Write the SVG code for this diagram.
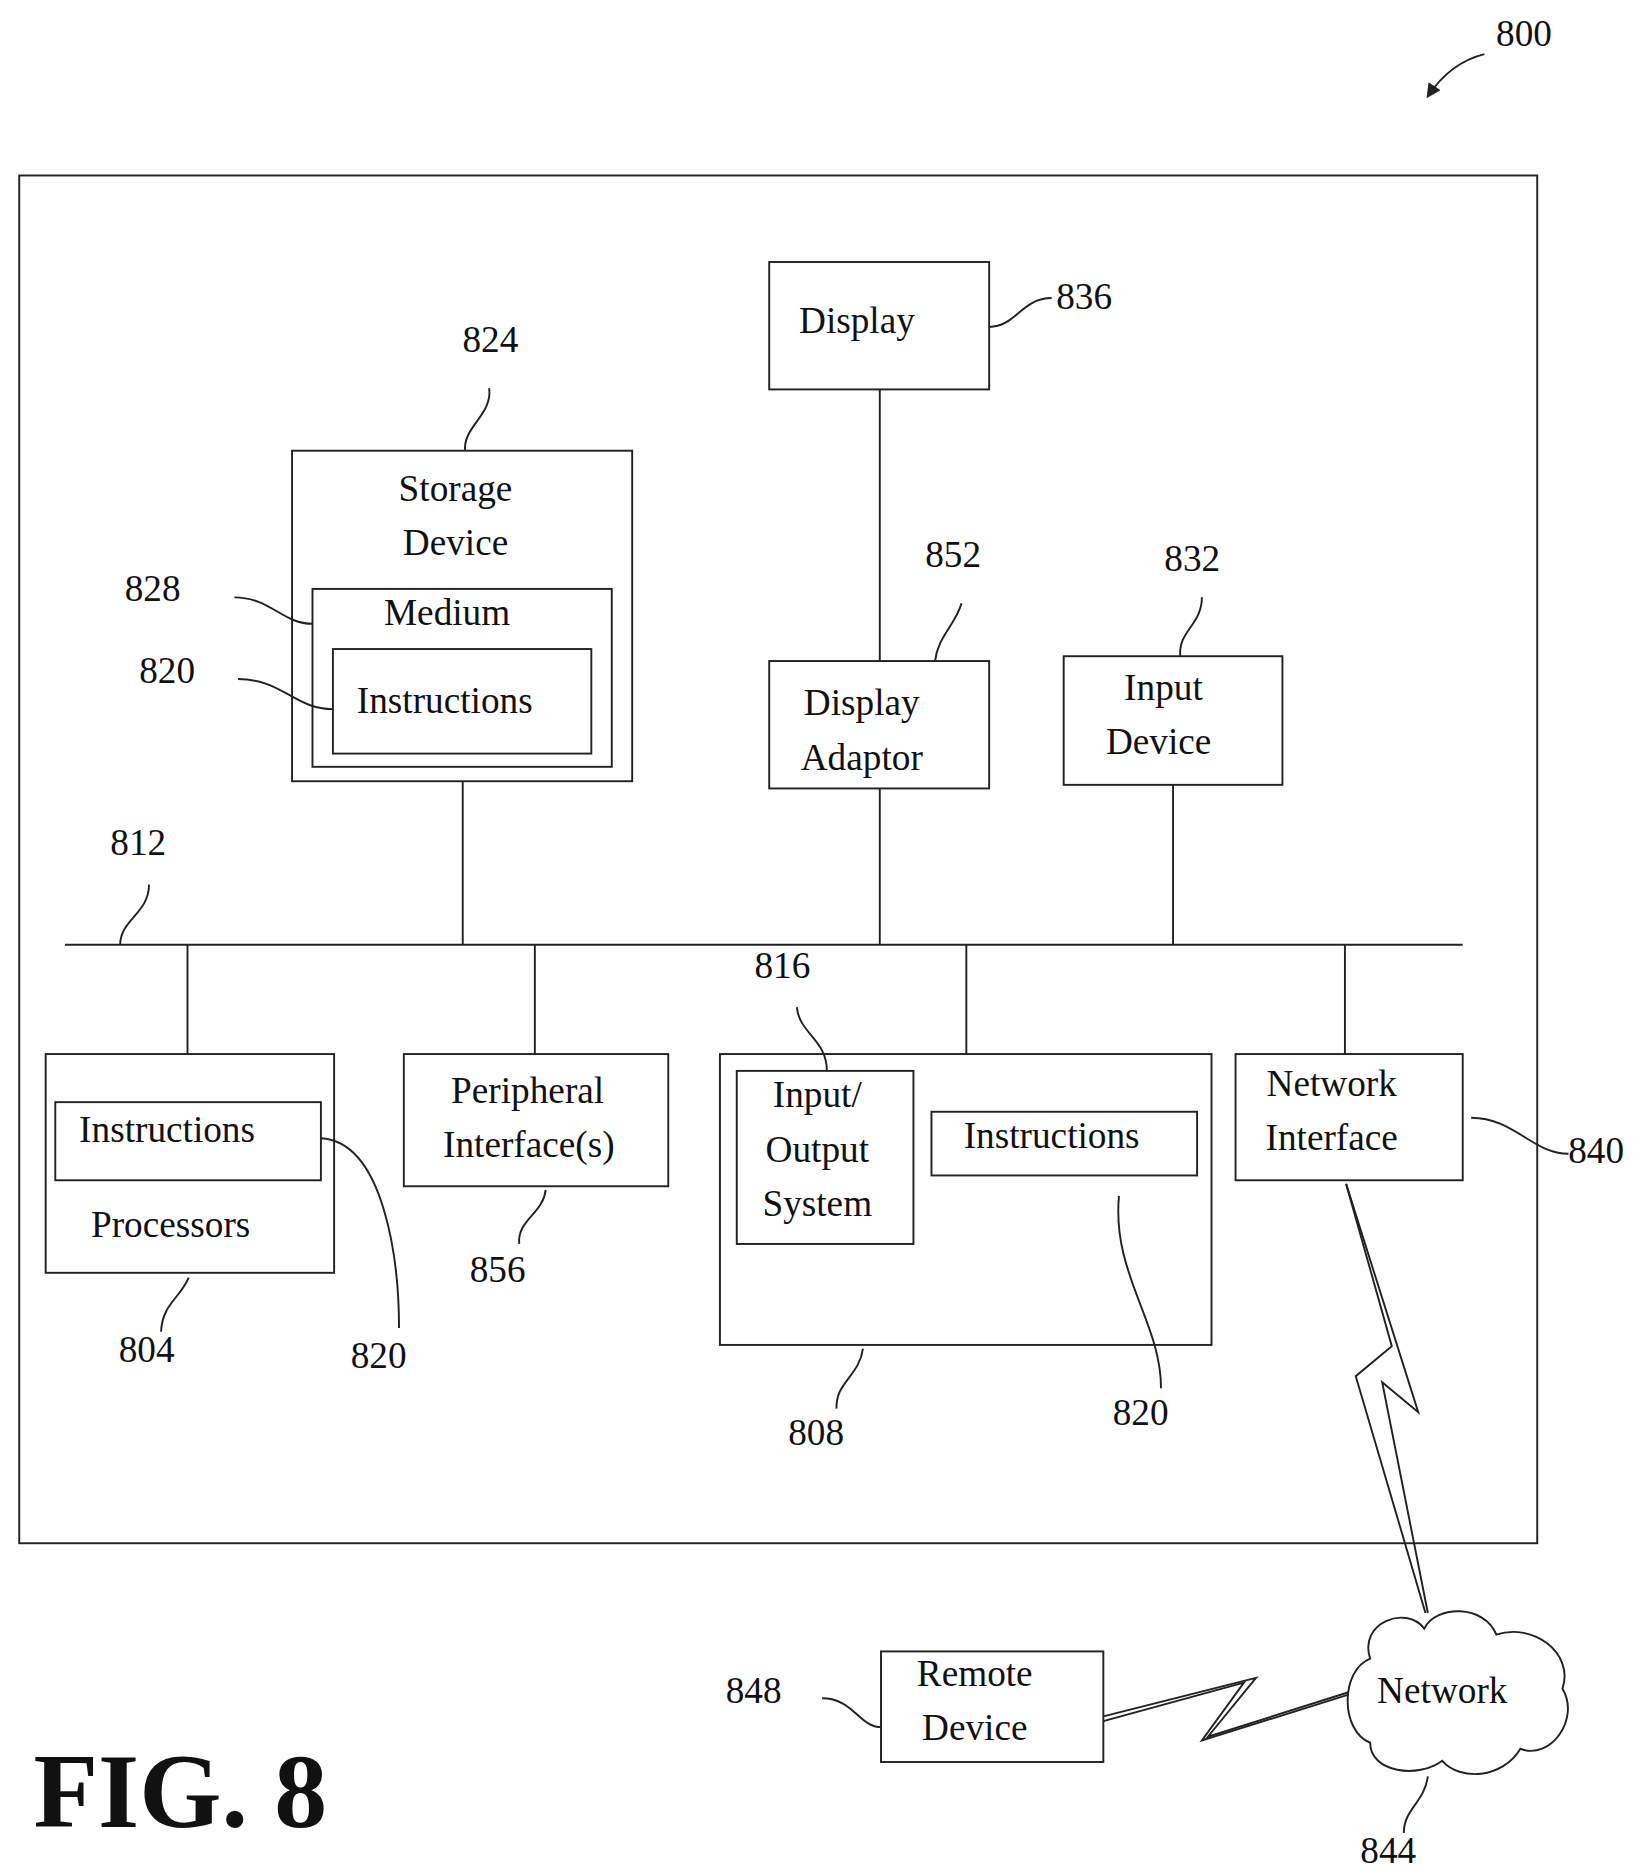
<svg xmlns="http://www.w3.org/2000/svg" width="1637" height="1875" viewBox="0 0 1637 1875">
<defs><style>
rect,.n{fill:none;stroke:#222;stroke-width:1.6}
path,line,polyline{fill:none;stroke:#222;stroke-width:1.6}
text{font-family:"Liberation Serif",serif;font-size:31px;fill:#111;text-anchor:middle}
</style>
<marker id="ah" markerWidth="12" markerHeight="12" refX="10" refY="6" orient="auto" markerUnits="userSpaceOnUse"><path d="M0,0 L12,6 L0,12 Z" style="fill:#222;stroke:none"/></marker></defs>
<rect width="1637" height="1875" style="fill:#fff;stroke:none"/>
<g transform="scale(1.2019)">
<g id="frame"><rect x="16" y="146" width="1263" height="1138"/></g>
<g id="n800"><text x="1268" y="38">800</text></g>
<g id="display"><rect x="640" y="218" width="183" height="106"/><text x="713" y="277">Display</text><text x="902" y="257">836</text></g>
<g id="adaptor"><rect x="640" y="550" width="183" height="106"/><text x="717" y="595">Display</text><text x="717" y="641">Adaptor</text><text x="793" y="472">852</text></g>
<g id="input"><rect x="885" y="546" width="182" height="107"/><text x="968" y="582">Input</text><text x="964" y="627">Device</text><text x="992" y="475">832</text></g>
<g id="storage"><rect x="243" y="375" width="283" height="275"/><text x="379" y="417">Storage</text><text x="379" y="462">Device</text><text x="408" y="293">824</text>
<rect x="260" y="490" width="249" height="148"/><text x="372" y="520">Medium</text>
<rect x="277" y="540" width="215" height="87"/><text x="370" y="593">Instructions</text>
<text x="127" y="500">828</text><text x="139" y="568">820</text></g>
<g id="bus"><text x="115" y="711">812</text></g>
<g id="proc"><rect x="38" y="877" width="240" height="182"/><rect x="46" y="917" width="221" height="65"/><text x="139" y="950">Instructions</text><text x="142" y="1029">Processors</text><text x="122" y="1133">804</text><text x="315" y="1138">820</text></g>
<g id="periph"><rect x="336" y="877" width="220" height="110"/><text x="439" y="918">Peripheral</text><text x="440" y="963">Interface(s)</text><text x="414" y="1067">856</text></g>
<g id="memory"><rect x="599" y="877" width="409" height="242"/><rect x="613" y="891" width="147" height="144"/><text x="680" y="921">Input/</text><text x="680" y="967">Output</text><text x="680" y="1012">System</text>
<rect x="775" y="925" width="221" height="53"/><text x="875" y="955">Instructions</text><text x="651" y="814">816</text><text x="949" y="1186">820</text><text x="679" y="1202">808</text></g>
<g id="netif"><rect x="1028" y="877" width="189" height="105"/><text x="1108" y="912">Network</text><text x="1108" y="957">Interface</text><text x="1328" y="968">840</text></g>
<g id="network"><path class="n" d="M1140,1380 C1130,1350 1170,1335 1185,1355 C1195,1335 1235,1335 1245,1360 C1275,1350 1310,1375 1300,1405 C1315,1430 1290,1465 1265,1455 C1250,1480 1215,1482 1200,1465 C1180,1480 1140,1475 1140,1450 C1115,1440 1115,1390 1140,1380 Z"/><text x="1200" y="1417">Network</text><text x="1155" y="1550">844</text></g>
<g id="remote"><rect x="733" y="1374" width="185" height="92"/><text x="811" y="1403">Remote</text><text x="811" y="1448">Device</text><text x="627" y="1417">848</text></g>
<g id="fig"><text x="150" y="1520" style="font-size:88px;font-weight:bold">FIG. 8</text></g>
<g id="connectors">
<path d="M1235,45 C1215,50 1200,62 1188,80" marker-end="url(#ah)"/>
<path d="M823,272 C845,272 850,248 875,248"/>
<path d="M800,502 C795,520 780,530 778,550"/>
<path d="M1000,497 C1000,520 980,525 982,546"/>
<path d="M407,323 C410,345 385,355 387,375"/>
<path d="M195,497 C225,497 235,519 260,519"/>
<path d="M198,565 C235,565 245,590 277,590"/>
<path d="M124,736 C124,760 100,765 100,786"/>
<line x1="732" y1="324" x2="732" y2="550"/>
<line x1="385" y1="650" x2="385" y2="786"/>
<line x1="54" y1="786" x2="1217" y2="786"/>
<line x1="156" y1="786" x2="156" y2="877"/>
<line x1="445" y1="786" x2="445" y2="877"/>
<line x1="732" y1="656" x2="732" y2="786"/>
<line x1="976" y1="653" x2="976" y2="786"/>
<line x1="804" y1="786" x2="804" y2="877"/>
<line x1="1119" y1="786" x2="1119" y2="877"/>
<path d="M157,1063 C150,1080 135,1085 134,1108"/>
<path d="M267,947 C320,950 332,1050 332,1105"/>
<path d="M454,990 C452,1010 430,1015 432,1035"/>
<path d="M663,838 C665,860 688,865 688,891"/>
<path d="M931,995 C925,1060 966,1100 966,1155"/>
<path d="M718,1122 C715,1145 695,1150 696,1172"/>
<path d="M1224,930 C1260,930 1275,960 1305,960"/>
<polyline points="1120,985 1158,1120 1128,1145 1186,1342"/>
<polyline points="1120,985 1180,1175 1150,1150 1188,1342"/>
<polyline points="918,1428 1045,1396 1005,1445 1122,1408"/>
<polyline points="918,1432 1035,1400 1000,1448 1122,1410"/>
<path d="M1188,1478 C1185,1500 1168,1505 1168,1525"/>
<path d="M684,1413 C710,1413 715,1437 733,1437"/>
</g>
</g>
</svg>
